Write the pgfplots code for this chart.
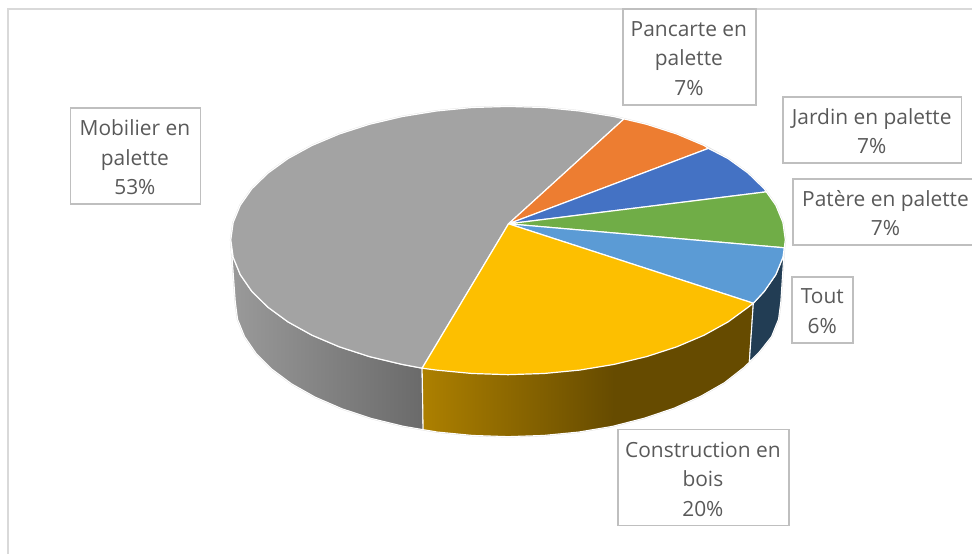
\documentclass[border=0pt]{standalone}
\usepackage{fontspec}
\setmainfont{Open Sans}
\usepackage{pgfplots}
\pgfplotsset{compat=1.18}
\definecolor{cGray}{HTML}{A3A3A3}
\definecolor{cOrange}{HTML}{ED7D31}
\definecolor{cBlue}{HTML}{4472C4}
\definecolor{cGreen}{HTML}{70AD47}
\definecolor{cLight}{HTML}{5B9BD5}
\definecolor{cYellow}{HTML}{FDBF00}
\definecolor{cTxt}{HTML}{595959}
\definecolor{cBox}{HTML}{BFBFBF}
\definecolor{cFrame}{HTML}{D9D9D9}
\definecolor{cHalo}{HTML}{DEDEDE}
\definecolor{cNavy}{HTML}{223D54}
\definecolor{cY1}{HTML}{AD8000}
\definecolor{cY2}{HTML}{664B00}
\definecolor{cG1}{HTML}{9A9A9A}
\definecolor{cG2}{HTML}{6A6A6A}
\begin{document}
\begin{tikzpicture}
\begin{axis}[
  scale only axis, width=729.75pt, height=415.5pt,
  xmin=0, xmax=973, ymin=0, ymax=554, y dir=reverse,
  axis lines=none, clip=false,
  every axis plot/.append style={line join=round},
]
\path (axis cs:0,0) rectangle (axis cs:973,554);
% halo around the pie
\addplot[draw=cHalo, line width=1.3pt] coordinates {
(508.5,106.5)(544.7,107.6)(580.3,111.1)(614.7,116.7)(647.25,124.4)(677.4,134.1)(704.7,145.6)(728.7,158.7)(748.8,173.25)(764.9,188.9)(776.5,205.4)(783.6,222.6)(786,240)(785,248)(781.5,302)(779.2,319.6)(772.2,336.9)(760.7,351.5)(744.9,367.5)(725.1,383)(701.5,396.5)(674.7,408.5)(645,418.5)(613,426.7)(579.2,432.4)(544.1,435.8)(508.5,437)(472.9,435.8)(437.8,432.4)(404,426.7)(372,418.9)(342.3,409.1)(315.5,397.5)(291.9,384.2)(272.1,369.5)(256.3,353.7)(244.8,336.9)(237.8,319.6)(235.5,302)(231,240)(233.4,222.6)(240.5,205.4)(252.1,188.9)(268.2,173.25)(288.3,158.7)(312.3,145.6)(339.6,134.1)(369.75,124.4)(402.3,116.7)(436.7,111.1)(472.3,107.6)} --cycle;
% side walls
\addplot[left color=cG1, right color=cG2, draw=white, line width=0.8pt] coordinates {
(231,240)(233.4,257.6)(240.5,274.9)(252.1,291.7)(268.2,307.5)(288.3,322.2)(312.3,335.5)(339.6,347.1)(369.75,356.9)(402.3,364.7)(422.5,368.5)(423.5,430)(404,426.7)(372,418.9)(342.3,409.1)(315.5,397.5)(291.9,384.2)(272.1,369.5)(256.3,353.7)(244.8,336.9)(237.8,319.6)(235.5,302)} --cycle;
\addplot[fill=cY2, draw=none] coordinates {
(600,362)(614.7,364.7)(647.25,356.9)(677.4,347.1)(704.7,335.5)(728.7,322.2)(748.8,307.5)(754,303.5)(750,362.5)(744.9,367.5)(725.1,383)(701.5,396.5)(674.7,408.5)(645,418.5)(613,426.7)(600,429)} --cycle;
\addplot[left color=cY1, right color=cY2, draw=none] coordinates {
(422.5,368.5)(436.7,370.4)(472.3,373.8)(508.5,375)(544.7,373.8)(580.3,370.4)(614.7,364.7)(613,426.7)(579.2,432.4)(544.1,435.8)(508.5,437)(472.9,435.8)(437.8,432.4)(423.5,430)} --cycle;
\addplot[draw=white, line width=0.8pt] coordinates {(422.5,368.5)(423.5,430)(437.8,432.4)(472.9,435.8)(508.5,437)(544.1,435.8)(579.2,432.4)(613,426.7)(645,418.5)(674.7,408.5)(701.5,396.5)(725.1,383)(744.9,367.5)(750,362.5)(754,303.5)};
\addplot[fill=cNavy, draw=white, line width=0.8pt] coordinates {
(785,248)(783.6,257.6)(776.5,274.9)(764.9,291.7)(754,303.5)(750,362.5)(760.7,351.5)(772.2,336.9)(779.2,319.6)(781.5,302)} --cycle;
% top face
\addplot[fill=cGray, draw=white, line width=0.9pt] coordinates {
(509,224)(624.5,119)(614.7,116.7)(580.3,111.1)(544.7,107.6)(508.5,106.5)(472.3,107.6)(436.7,111.1)(402.3,116.7)(369.75,124.4)(339.6,134.1)(312.3,145.6)(288.3,158.7)(268.2,173.25)(252.1,188.9)(240.5,205.4)(233.4,222.6)(231,240)(233.4,257.6)(240.5,274.9)(252.1,291.7)(268.2,307.5)(288.3,322.2)(312.3,335.5)(339.6,347.1)(369.75,356.9)(402.3,364.7)(422.5,368.5)} --cycle;
\addplot[fill=cOrange, draw=white, line width=0.9pt] coordinates {
(509,224)(709,148.5)(704.7,145.6)(677.4,134.1)(647.25,124.4)(624.5,119)} --cycle;
\addplot[fill=cBlue, draw=white, line width=0.9pt] coordinates {
(509,224)(767,192)(764.9,188.9)(748.8,173.25)(728.7,158.7)(709,148.5)} --cycle;
\addplot[fill=cGreen, draw=white, line width=0.9pt] coordinates {
(509,224)(785,248)(786,240)(783.6,222.6)(776.5,205.4)(767,192)} --cycle;
\addplot[fill=cLight, draw=white, line width=0.9pt] coordinates {
(509,224)(754,303.5)(764.9,291.7)(776.5,274.9)(783.6,257.6)(785,248)} --cycle;
\addplot[fill=cYellow, draw=white, line width=0.9pt] coordinates {
(509,224)(422.5,368.5)(436.7,370.4)(472.3,373.8)(508.5,375)(544.7,373.8)(580.3,370.4)(614.7,364.7)(647.25,356.9)(677.4,347.1)(704.7,335.5)(728.7,322.2)(748.8,307.5)(754,303.5)} --cycle;
% frame
\draw[cFrame, line width=1.3pt] (axis cs:8,554) -- (axis cs:8,9) -- (axis cs:973,9);
% label boxes
\draw[cBox, line width=1.2pt] (axis cs:623.5,9) rectangle (axis cs:756.5,105);
\draw[cBox, line width=1.2pt] (axis cs:783.5,97) rectangle (axis cs:962.5,163);
\draw[cBox, line width=1.2pt] (axis cs:973,179) -- (axis cs:793.5,179) -- (axis cs:793.5,245) -- (axis cs:973,245);
\draw[cBox, line width=1.2pt] (axis cs:792.5,277) rectangle (axis cs:853.5,343);
\draw[cBox, line width=1.2pt] (axis cs:618.5,430) rectangle (axis cs:789.5,526);
\draw[cBox, line width=1.2pt] (axis cs:70.5,108) rectangle (axis cs:200.5,204);
\tikzset{lab/.style={text=cTxt, align=center, inner sep=0pt, font=\fontsize{15.7pt}{22.1pt}\selectfont}}
\node[lab] at (axis cs:689.5,58.5) {Pancarte en\\palette\\7\%};
\node[lab] at (axis cs:872.5,131.5) {Jardin en palette\\7\%};
\node[lab] at (axis cs:886.3,213.5) {Patère en palette\\7\%};
\node[lab] at (axis cs:823,311.5) {Tout\\6\%};
\node[lab] at (axis cs:703.5,479.5) {Construction en\\bois\\20\%};
\node[lab] at (axis cs:135,157.5) {Mobilier en\\palette\\53\%};
\end{axis}
\end{tikzpicture}
\end{document}
